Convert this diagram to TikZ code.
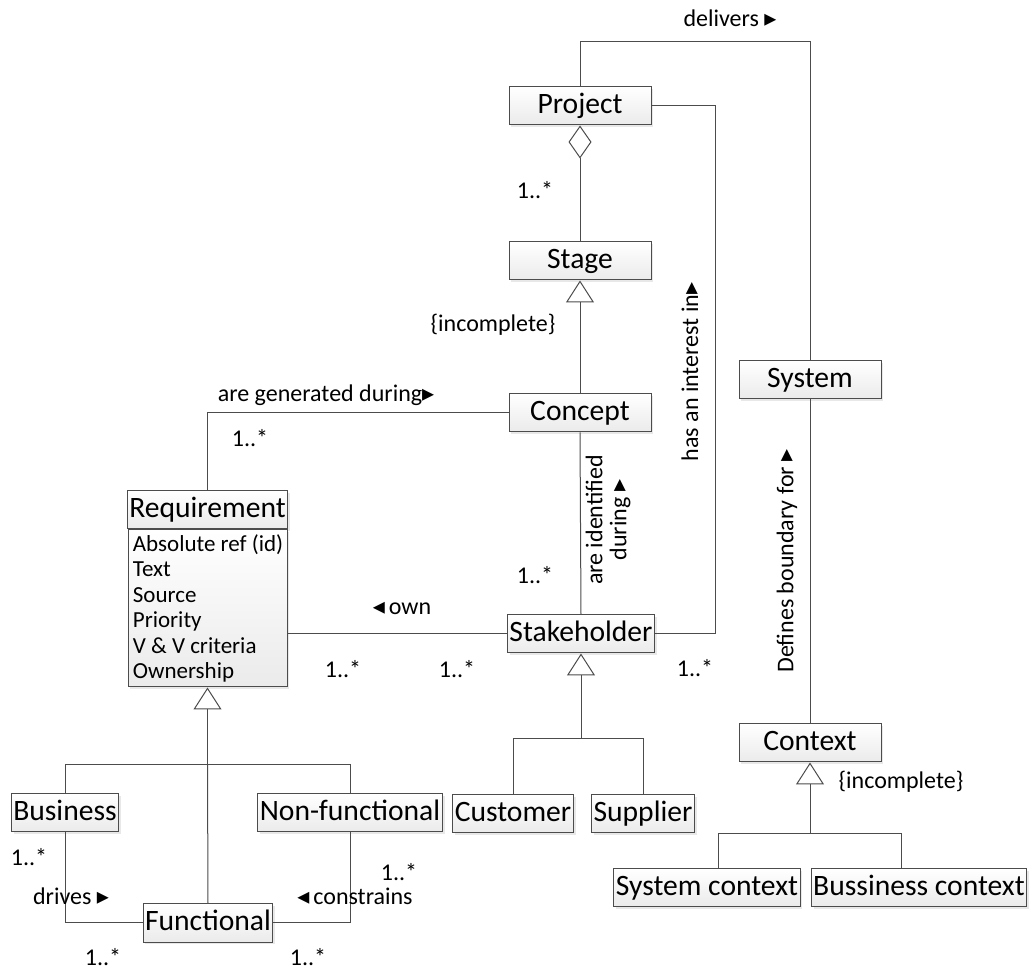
\documentclass[tikz,border=0pt]{standalone}
\usepackage{fontspec}
\setmainfont{Carlito}
\newfontfamily\symfont{DejaVu Sans}
\usetikzlibrary{positioning,arrows.meta,shadows}
\newcommand{\rtri}{{\symfont ▸}}
\newcommand{\ltri}{{\symfont ◂}}

\begin{document}
\begin{tikzpicture}[x=0.5pt, y=-0.5pt,
    box/.style={draw=black!70, line width=0.5pt, top color=white, bottom color=black!8,
      drop shadow={shadow xshift=1.2pt, shadow yshift=-1.2pt, opacity=0.18}},
    cls/.style={box, minimum height=19pt, inner xsep=1pt, inner ysep=0pt,
      text height=10.5pt, text depth=3pt,
      font=\fontsize{14.8}{16}\selectfont},
    wide/.style={minimum width=71pt},
    attrs/.style={box, minimum height=78.5pt, minimum width=79.5pt, inner xsep=2pt,
      inner ysep=0pt},
    lbl/.style={font=\fontsize{12}{12}\selectfont, inner sep=0pt, align=center},
    link/.style={draw=black!70, line width=0.5pt},
    gen/.style={link, {Triangle[open, length=11pt, width=14pt, fill=white]}-},
    agg/.style={link, {Diamond[open, length=16.5pt, width=11.5pt, fill=white]}-}]
    \useasboundingbox (0,0) rectangle (1029,972);

    % classes
    \node[cls, wide] (proj) at (580,106) {Project};
    \node[cls, wide] (stage) at (580,261) {Stage};
    \node[cls, wide] (concept) at (580,413) {Concept};
    \node[cls, wide] (sys) at (810,380) {System};
    \node[cls, wide] (ctx) at (810,743) {Context};
    \node[cls, minimum width=79.5pt] (req) at (207.5,510) {Requirement};
    \node[attrs, anchor=north] (reqattr) at (req.south) {};
    \node[anchor=west, inner xsep=2.5pt, inner ysep=0pt, align=left,
      font=\fontsize{11.5}{12.7}\selectfont] (reqlist) at (reqattr.west)
      {Absolute ref (id)\\Text\\Source\\Priority\\V \& V criteria\\Ownership};
    \node[cls] (stake) at (581,634) {Stakeholder};
    \node[cls] (cust) at (513,814) {Customer};
    \node[cls] (supp) at (643,814) {Supplier};
    \node[cls] (bus) at (65,813) {Business};
    \node[cls] (nonf) at (350,813) {Non-functional};
    \node[cls] (func) at (208,923) {Functional};
    \node[cls] (sysctx) at (707,888) {System context};
    \node[cls] (busctx) at (919,888) {Bussiness context};

    % connectors
    \draw[link] (proj.north) -- ++(0,-45) -| (sys.north);
    \draw[agg] (proj.south) -- (stage.north);
    \draw[gen] (stage.south) -- (concept.north);
    \draw[link] (proj.east) -- ++(64,0) |- (stake.east);
    \draw[link] (concept.west) -| (req.north);
    \draw[link] (concept.south) -- (stake.north);
    \draw[link] (stake.west) -- (stake.west -| reqattr.east);
    \draw[link] (sys.south) -- (ctx.north);

    \draw[gen] (stake.south) -- ++(0,85) coordinate (stakejoin);
    \draw[link] (cust.north) |- (stakejoin) -| (supp.north);

    \draw[gen] (reqattr.south) -- ++(0,77) coordinate (reqjoin);
    \draw[link] (bus.north) |- (reqjoin) -| (nonf.north);
    \draw[link] (reqjoin) -- (func.north);
    \draw[link] (bus.south) |- (func.west);
    \draw[link] (nonf.south) |- (func.east);

    \draw[gen] (ctx.south) -- ++(0,71) coordinate (ctxjoin);
    \draw[link] ([xshift=5.5pt]sysctx.north) |- (ctxjoin) -| ([xshift=-9pt]busctx.north);

    % labels
    \node[lbl] (delivers) at (730,18) {delivers \rtri};
    \node[lbl] (mstage) at (535,190) {1..*};
    \node[lbl] (incstage) at (493,325) {\{incomplete\}};
    \node[lbl, rotate=90] (interest) at (690,372) {has an interest in\rtri};
    \node[lbl] (generated) at (326,395) {are generated during\rtri};
    \node[lbl] (mreqtop) at (250,438) {1..*};
    \node[lbl] (own) at (402,608) {\ltri\,own};
    \node[lbl] (mreqown) at (343,669) {1..*};
    \node[lbl] (mstakeown) at (457,669) {1..*};
    \node[lbl] (mstaketop) at (535,575) {1..*};
    \node[lbl, rotate=90] (identified) at (608,520) {are identified\\during \rtri};
    \node[lbl] (mstakeright) at (695,668) {1..*};
    \node[lbl, rotate=90] (boundary) at (787,561) {Defines boundary for \rtri};
    \node[lbl] (incctx) at (901,782) {\{incomplete\}};
    \node[lbl] (mbus) at (29,857) {1..*};
    \node[lbl] (drives) at (71,896) {drives \rtri};
    \node[lbl] (mnonf) at (399,872) {1..*};
    \node[lbl] (constrains) at (355,896) {\ltri\,constrains};
    \node[lbl] (mfuncl) at (103,957) {1..*};
    \node[lbl] (mfuncr) at (308,957) {1..*};
  \end{tikzpicture}
\end{document}
